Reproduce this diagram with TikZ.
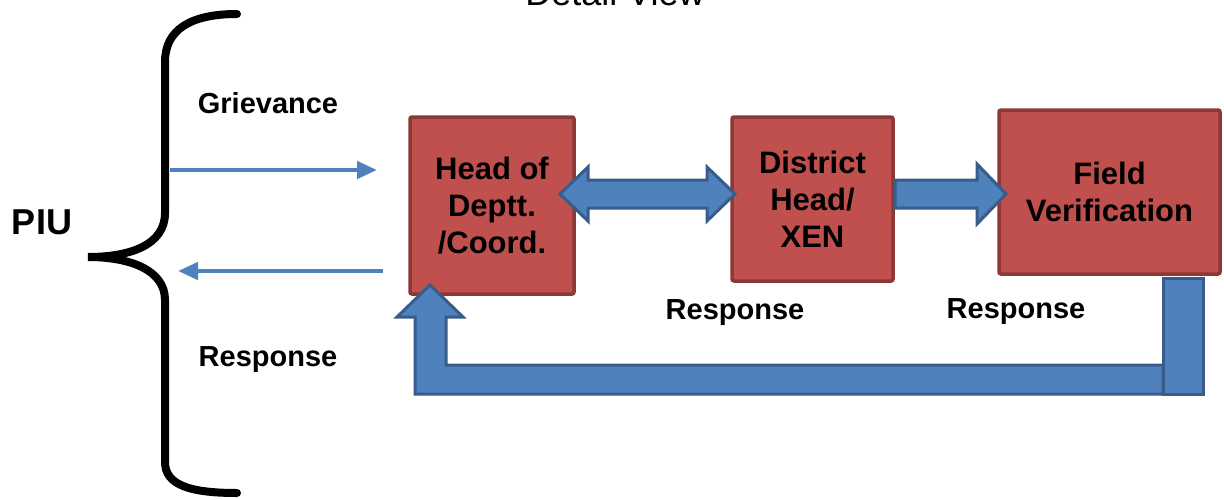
\documentclass[tikz,border=0pt]{standalone}
\usepackage{fontspec}
\setmainfont{Liberation Sans}
\usetikzlibrary{arrows.meta,calc}
\definecolor{boxfill}{HTML}{C0504D}
\definecolor{boxline}{HTML}{8C3836}
\definecolor{arrfill}{HTML}{4F81BD}
\definecolor{arrline}{HTML}{385D8A}
\tikzset{
 blk/.style={draw=boxline, fill=boxfill, line width=3.5pt, rounded corners=2pt, align=center, font=\bfseries\fontsize{31}{37}\selectfont, inner sep=0pt},
 lbl/.style={font=\bfseries\fontsize{29}{34}\selectfont, inner sep=0pt},
 barrow/.style={draw=arrline, fill=arrfill, line width=3pt, line join=miter},
 thinarrow/.style={draw=arrfill, line width=4.5pt, -{Triangle[length=20pt,width=17pt]}},
 bracestyle/.style={line width=8pt, line cap=round}
}
\begin{document}
\begin{tikzpicture}[x=1pt,y=-1pt]
\useasboundingbox (0,0) rectangle (1224,499);
\fill[white] (0,0) rectangle (1224,499);

% title (cut off at top, as in the reference)
\node[font=\fontsize{36}{40}\selectfont, anchor=base, inner sep=0pt] (title) at (615,5) {Detail View};

% brace
\draw[bracestyle] (237,14) .. controls (190,14) and (165,30) .. (165,62) -- (165,213)
  .. controls (165,245) and (130,257) .. (88,257)
  .. controls (130,257) and (165,270) .. (165,300) -- (165,462)
  .. controls (165,485) and (190,493) .. (237,493);

% labels
\node[font=\bfseries\fontsize{36}{40}\selectfont, inner sep=0pt] (piu) at (42,222) {PIU};
\node[lbl] (griev) at (268,103) {Grievance};
\node[lbl] (resp1) at (268,360) {Response};
\node[lbl] (resp2) at (735,313) {Response};
\node[lbl] (resp3) at (1016,312) {Response};

% boxes
\node[blk, minimum width=164pt, minimum height=177pt] (hod) at (492,205.5) {Head of\\Deptt.\\/Coord.};
\node[blk, minimum width=161pt, minimum height=164pt] (dh) at (812.5,199) {District\\Head/\\XEN};
\node[blk, minimum width=221pt, minimum height=164pt] (fv) at (1109.5,192) {Field\\Verification};

% thin arrows
\coordinate (g1) at (170,170);
\coordinate (g2) at (377,170);
\coordinate (r1) at (383,271);
\coordinate (r2) at (178,271);
\draw[thinarrow] (g1) -- (g2);
\draw[thinarrow] (r1) -- (r2);

% double block arrow hod <-> dh
\draw[barrow] (560,194) -- (588,167) -- (588,180) -- (707,180) -- (707,167) -- (735,194)
  -- (707,221) -- (707,208) -- (588,208) -- (588,221) -- cycle;

% block arrow dh -> fv
\draw[barrow] (895,180) -- (977,180) -- (977,164) -- (1006,194) -- (977,224) -- (977,208) -- (895,208) -- cycle;

% return arrow fv -> hod
\draw[barrow] (430,285) -- (463,317) -- (446,317) -- (446,365) -- (1163,365) -- (1163,394)
  -- (415,394) -- (415,317) -- (397,317) -- cycle;
\draw[barrow] (1163,278) rectangle (1203,394);
\end{tikzpicture}
\end{document}
